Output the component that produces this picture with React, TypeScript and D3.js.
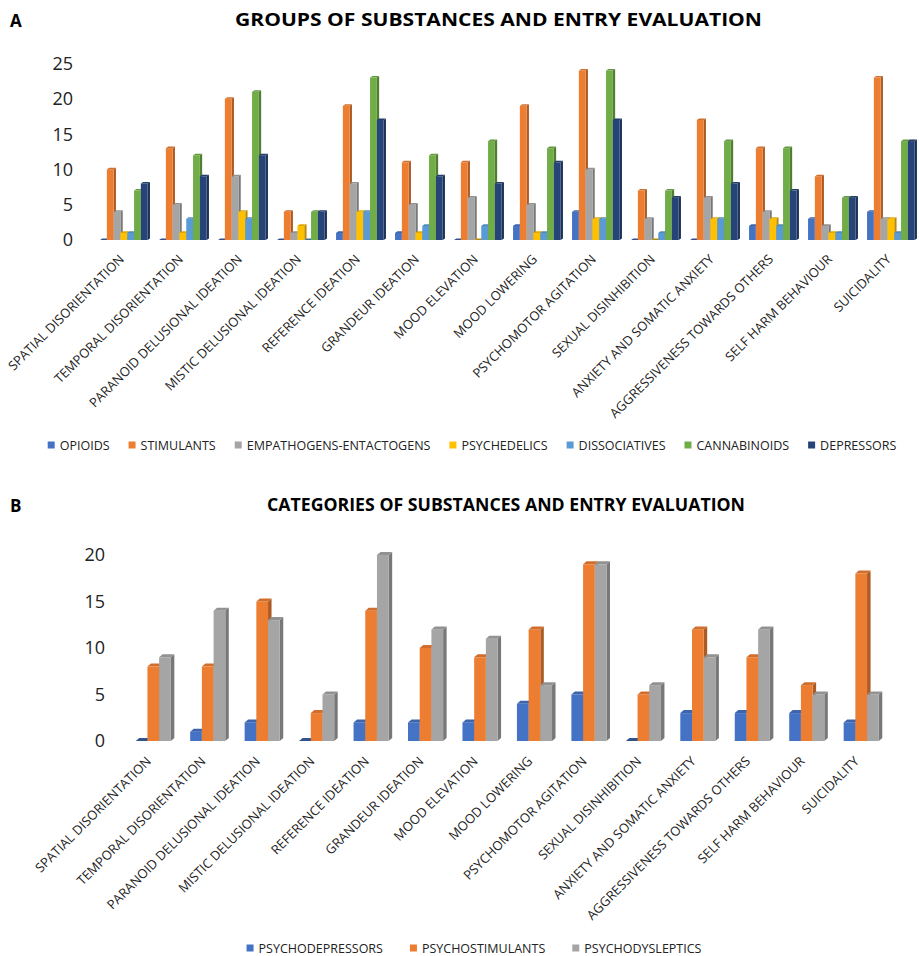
import React, { useEffect, useRef } from 'react';
import * as d3 from 'd3';

// Symptom categories evaluated at entry
const symptoms = [
  'SPATIAL DISORIENTATION',
  'TEMPORAL DISORIENTATION',
  'PARANOID DELUSIONAL IDEATION',
  'MISTIC DELUSIONAL IDEATION',
  'REFERENCE IDEATION',
  'GRANDEUR IDEATION',
  'MOOD ELEVATION',
  'MOOD LOWERING',
  'PSYCHOMOTOR AGITATION',
  'SEXUAL DISINHIBITION',
  'ANXIETY AND SOMATIC ANXIETY',
  'AGGRESSIVENESS TOWARDS OTHERS',
  'SELF HARM BEHAVIOUR',
  'SUICIDALITY',
];

// Panel A: groups of substances
const groupNames = ['OPIOIDS', 'STIMULANTS', 'EMPATHOGENS-ENTACTOGENS', 'PSYCHEDELICS', 'DISSOCIATIVES', 'CANNABINOIDS', 'DEPRESSORS'];
const opioids = [0, 0, 0, 0, 1, 1, 0, 2, 4, 0, 0, 2, 3, 4];
const stimulants = [10, 13, 20, 4, 19, 11, 11, 19, 24, 7, 17, 13, 9, 23];
const empathogens = [4, 5, 9, 1, 8, 5, 6, 5, 10, 3, 6, 4, 2, 3];
const psychedelics = [1, 1, 4, 2, 4, 1, 0, 1, 3, 0, 3, 3, 1, 3];
const dissociatives = [1, 3, 3, 0, 4, 2, 2, 1, 3, 1, 3, 2, 1, 1];
const cannabinoids = [7, 12, 21, 4, 23, 12, 14, 13, 24, 7, 14, 13, 6, 14];
const depressors = [8, 9, 12, 4, 17, 9, 8, 11, 17, 6, 8, 7, 6, 14];
const groupColors = ['#4472C4', '#ED7D31', '#A5A5A5', '#FFC000', '#5B9BD5', '#70AD47', '#264478'];
const groupTicks = [0, 5, 10, 15, 20, 25];

// Panel B: categories of substances
const categoryNames = ['PSYCHODEPRESSORS', 'PSYCHOSTIMULANTS', 'PSYCHODYSLEPTICS'];
const psychodepressors = [0, 1, 2, 0, 2, 2, 2, 4, 5, 0, 3, 3, 3, 2];
const psychostimulants = [8, 8, 15, 3, 14, 10, 9, 12, 19, 5, 12, 9, 6, 18];
const psychodysleptics = [9, 14, 13, 5, 20, 12, 11, 6, 19, 6, 9, 12, 5, 5];
const categoryColors = ['#4472C4', '#ED7D31', '#A5A5A5'];
const categoryTicks = [0, 5, 10, 15, 20];

const FONT = "'Open Sans', 'Noto Sans', sans-serif";

type Panel = {
  letter: string;
  title: string;
  titleX: number;
  titleY: number;
  titleLen: number;
  names: string[];
  series: number[][];
  colors: string[];
  ticks: number[];
  yMax: number;
  yTop: number;
  yBase: number;
  tickX: number;
  xStart: number;
  xEnd: number;
  barW: number;
  dx: number;
  dy: number;
  labelDx: number;
  labelDy: number;
  legendY: number;
  legendCx: number;
  legendGap: number;
};

function drawPanel(svg: d3.Selection<SVGSVGElement, unknown, null, undefined>, p: Panel) {
  const g = svg.append('g');

  g.append('text')
    .attr('x', 10)
    .attr('y', p.titleY + 1)
    .attr('font-family', FONT)
    .attr('font-weight', 700)
    .attr('font-size', 17)
    .attr('fill', '#000')
    .text(p.letter);

  g.append('text')
    .attr('x', p.titleX)
    .attr('y', p.titleY)
    .attr('text-anchor', 'middle')
    .attr('font-family', FONT)
    .attr('font-weight', 700)
    .attr('font-size', 17)
    .attr('fill', '#000')
    .attr('textLength', p.titleLen)
    .attr('lengthAdjust', 'spacingAndGlyphs')
    .text(p.title);

  const y = d3.scaleLinear().domain([0, p.yMax]).range([p.yBase, p.yTop]);
  const x = d3.scaleBand<string>().domain(symptoms).range([p.xStart, p.xEnd]).padding(0);
  const inner = d3
    .scaleBand<number>()
    .domain(d3.range(p.series.length))
    .range([0, p.barW * p.series.length]);

  // y-axis tick labels
  g.append('g')
    .selectAll('text')
    .data(p.ticks)
    .join('text')
    .attr('x', p.tickX)
    .attr('y', (d) => y(d))
    .attr('dy', '0.36em')
    .attr('text-anchor', 'end')
    .attr('font-family', FONT)
    .attr('font-size', 18)
    .attr('fill', '#222')
    .text((d) => d);

  // 3D columns: front face, top face and right side
  const groupW = p.barW * p.series.length;
  const bars = g.append('g');
  symptoms.forEach((s, i) => {
    const cx = (x(s) ?? 0) + x.bandwidth() / 2;
    const x0 = cx - (groupW + p.dx) / 2;
    p.series.forEach((vals, k) => {
      const v = vals[i];
      const c = d3.color(p.colors[k])!;
      const top = c.darker(0.35).formatHex();
      const side = c.darker(0.9).formatHex();
      const bx = x0 + (inner(k) ?? 0);
      const w = inner.bandwidth();
      const yt = y(v);
      const yb = y(0);
      const bg = bars.append('g');
      if (v > 0) {
        bg.append('path')
          .attr('d', `M${bx + w},${yt} L${bx + w + p.dx},${yt - p.dy} L${bx + w + p.dx},${yb - p.dy} L${bx + w},${yb} Z`)
          .attr('fill', side);
        bg.append('rect')
          .attr('x', bx)
          .attr('y', yt)
          .attr('width', w)
          .attr('height', yb - yt)
          .attr('fill', p.colors[k]);
      }
      bg.append('path')
        .attr('d', `M${bx},${yt} L${bx + p.dx},${yt - p.dy} L${bx + w + p.dx},${yt - p.dy} L${bx + w},${yt} Z`)
        .attr('fill', v > 0 ? top : side);
    });
  });

  // rotated category labels
  g.append('g')
    .selectAll('text')
    .data(symptoms)
    .join('text')
    .attr('text-anchor', 'end')
    .attr('font-family', FONT)
    .attr('font-size', 13)
    .attr('fill', '#222')
    .attr('transform', (d) => {
      const cx = (x(d) ?? 0) + x.bandwidth() / 2 + p.labelDx;
      return `translate(${cx},${p.yBase + p.labelDy}) rotate(-45)`;
    })
    .text((d) => d);

  // legend
  const leg = g.append('g');
  const items = p.names.map((name, k) => {
    const it = leg.append('g');
    it.append('rect').attr('x', 0).attr('y', -3.5).attr('width', 7).attr('height', 7).attr('fill', p.colors[k]);
    const t = it
      .append('text')
      .attr('x', 12)
      .attr('y', 0)
      .attr('dy', '0.36em')
      .attr('font-family', FONT)
      .attr('font-size', 12.5)
      .attr('fill', '#222')
      .text(name);
    const tw = (t.node() as SVGTextElement).getComputedTextLength();
    return { it, w: 12 + tw };
  });
  const total = d3.sum(items, (d) => d.w) + p.legendGap * (items.length - 1);
  let cur = p.legendCx - total / 2;
  items.forEach((d) => {
    d.it.attr('transform', `translate(${cur},${p.legendY})`);
    cur += d.w + p.legendGap;
  });
}

export default function App() {
  const ref = useRef<SVGSVGElement | null>(null);

  useEffect(() => {
    const svg = d3.select(ref.current!);
    svg.selectAll('*').remove();
    svg.append('rect').attr('width', 919).attr('height', 956).attr('fill', '#fff');

    drawPanel(svg, {
      letter: 'A',
      title: 'GROUPS OF SUBSTANCES AND ENTRY EVALUATION',
      titleX: 498.5,
      titleY: 26,
      titleLen: 527,
      names: groupNames,
      series: [opioids, stimulants, empathogens, psychedelics, dissociatives, cannabinoids, depressors],
      colors: groupColors,
      ticks: groupTicks,
      yMax: 25,
      yTop: 63.5,
      yBase: 240,
      tickX: 73,
      xStart: 95.5,
      xEnd: 921.5,
      barW: 6.8,
      dx: 2.3,
      dy: 1.6,
      labelDx: 0,
      labelDy: 20,
      legendY: 445,
      legendCx: 472,
      legendGap: 19,
    });

    drawPanel(svg, {
      letter: 'B',
      title: 'CATEGORIES OF SUBSTANCES AND ENTRY EVALUATION',
      titleX: 506,
      titleY: 511,
      titleLen: 478,
      names: categoryNames,
      series: [psychodepressors, psychostimulants, psychodysleptics],
      colors: categoryColors,
      ticks: categoryTicks,
      yMax: 20,
      yTop: 555,
      yBase: 741,
      tickX: 105,
      xStart: 127.8,
      xEnd: 890.2,
      barW: 11.7,
      dx: 3.5,
      dy: 3,
      labelDx: -3,
      labelDy: 21,
      legendY: 948,
      legendCx: 474,
      legendGap: 27,
    });
  }, []);

  return (
    <svg
      ref={ref}
      width={919}
      height={956}
      style={{ position: 'absolute', left: 0, top: 0, display: 'block' }}
    />
  );
}
